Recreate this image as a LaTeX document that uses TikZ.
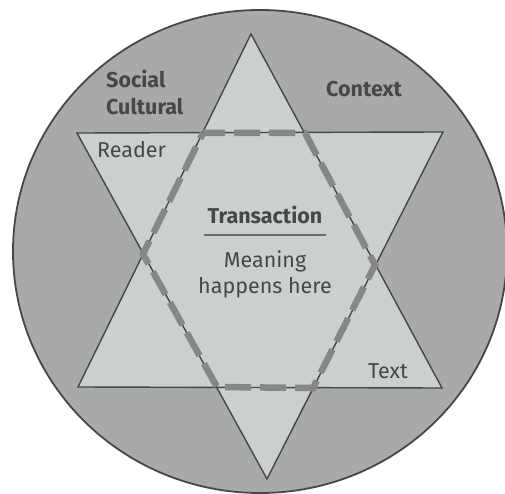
\documentclass[tikz,border=0pt]{standalone}
\usepackage{fontspec}
\setmainfont{Fira Sans}
\definecolor{ringgrey}{RGB}{168,170,169}
\definecolor{stargrey}{RGB}{203,207,205}
\definecolor{inkgrey}{RGB}{70,72,72}
\definecolor{dashgrey}{RGB}{134,136,135}
\begin{document}
\begin{tikzpicture}[x=1pt,y=-1pt,
  word/.style={text=inkgrey,inner sep=0pt,font=\fontsize{21.5}{24}\selectfont},
  boldword/.style={word,font=\fontsize{21.5}{24}\selectfont\bfseries}]
\useasboundingbox (0,0) rectangle (505,494);
\draw[line width=1.8pt,draw=inkgrey,fill=ringgrey] (260,251.5) ellipse [x radius=247pt,y radius=241.5pt];
\coordinate (up) at (251,34);
\coordinate (upl) at (78,387);
\coordinate (upr) at (442,388);
\coordinate (dnl) at (77,133);
\coordinate (dnr) at (443,132);
\coordinate (dn) at (267,479);
\fill[stargrey] (up) -- (upl) -- (upr) -- cycle;
\fill[stargrey] (dnl) -- (dnr) -- (dn) -- cycle;
\draw[line width=1.4pt,draw=inkgrey,line join=miter] (up) -- (upl) -- (upr) -- cycle;
\draw[line width=1.4pt,draw=inkgrey,line join=miter] (dnl) -- (dnr) -- (dn) -- cycle;
\draw[line width=6.5pt,draw=dashgrey,dash pattern=on 26pt off 9pt,dash phase=4pt]
  (203,133) -- (305,133) -- (375,265) -- (313,388) -- (217,387) -- (143,254) -- cycle;
\node[boldword,anchor=base west] (social) at (106,88) {Social};
\node[boldword,anchor=base west] (cultural) at (106,115) {Cultural};
\node[boldword,anchor=base west] (context) at (326,97) {Context};
\node[word,anchor=base west] (reader) at (97,158) {Reader};
\node[boldword,anchor=base] (transaction) at (265,223) {Transaction};
\draw[line width=1.2pt,draw=inkgrey!80] ([xshift=-4pt,yshift=-12pt]transaction.base west) -- ([xshift=3pt,yshift=-12pt]transaction.base east);
\node[word,anchor=base] (meaning) at (265,267) {Meaning};
\node[word,anchor=base] (happens) at (265,293) {happens here};
\node[word,anchor=base west] (textlabel) at (368,378) {Text};
\end{tikzpicture}
\end{document}
